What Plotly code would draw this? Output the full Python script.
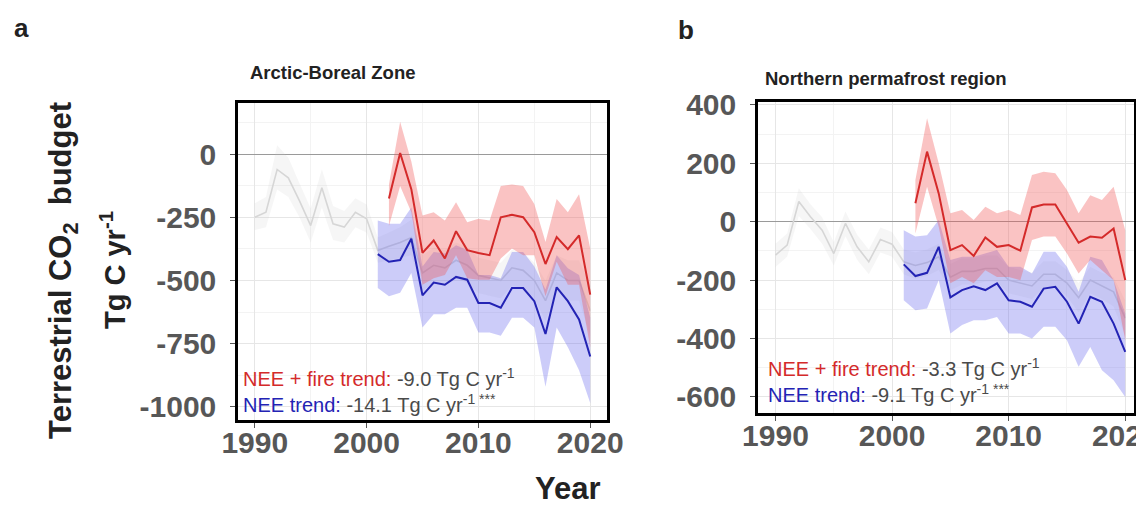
import plotly.graph_objects as go

W, H = 1136, 511

# ---------------- data ----------------
years_gray = [1990, 1991, 1992, 1993, 1994, 1995, 1996, 1997, 1998, 1999, 2000,
              2001, 2002, 2003, 2004, 2005, 2006, 2007, 2008, 2009, 2010,
              2011, 2012, 2013, 2014, 2015, 2016, 2017, 2018, 2019, 2020]
years_nee = [2001, 2002, 2003, 2004, 2005, 2006, 2007, 2008, 2009, 2010,
             2011, 2012, 2013, 2014, 2015, 2016, 2017, 2018, 2019, 2020]
years_fire = [2002, 2003, 2004, 2005, 2006, 2007, 2008, 2009, 2010,
              2011, 2012, 2013, 2014, 2015, 2016, 2017, 2018, 2019, 2020]

# Panel a: Arctic-Boreal Zone
a_gray = [-250, -230, -61, -94, -185, -283, -133, -276, -289, -230, -256,
          -381, -365, -350, -330, -470, -440, -450, -420, -440, -480,
          -490, -500, -450, -460, -500, -580, -470, -500, -500, -620]
a_gray_hi = [-195, -170, 35, -15, -115, -215, -60, -205, -225, -175, -200,
             -330, -310, -290, -260, -400, -370, -380, -350, -370, -410,
             -420, -430, -380, -390, -430, -500, -400, -420, -420, -520]
a_gray_lo = [-300, -290, -140, -170, -250, -350, -210, -340, -350, -290, -310,
             -430, -420, -410, -400, -540, -510, -520, -490, -510, -550,
             -560, -570, -520, -530, -570, -660, -540, -580, -580, -720]
a_fire = [-176, 4, -139, -391, -342, -413, -305, -380, -391, -400,
          -250, -240, -250, -309, -435, -328, -376, -322, -556]
a_fire_hi = [-120, 128, -29, -243, -230, -263, -191, -270, -256, -263,
             -126, -120, -126, -198, -348, -178, -230, -159, -374]
a_fire_lo = [-285, -126, -230, -517, -491, -478, -400, -491, -497, -497,
             -413, -374, -400, -400, -562, -426, -517, -517, -764]
a_nee = [-396, -426, -419, -335, -559, -508, -517, -486, -497, -589,
         -589, -608, -530, -530, -582, -712, -527, -582, -654, -801]
a_nee_hi = [-263, -276, -276, -211, -445, -387, -393, -361, -380, -478,
            -478, -491, -387, -387, -445, -536, -400, -452, -478, -647]
a_nee_lo = [-530, -562, -549, -470, -686, -634, -634, -608, -608, -706,
            -706, -719, -648, -648, -686, -920, -686, -764, -855, -985]

# Panel b: Northern permafrost region
b_gray = [-114, -80, 69, 17, -29, -109, -6, -86, -137, -61, -77,
          -137, -150, -140, -120, -190, -170, -170, -160, -160, -200,
          -210, -220, -180, -180, -210, -260, -200, -220, -240, -330]
b_gray_hi = [-75, -40, 115, 60, 15, -70, 35, -45, -95, -20, -35,
             -95, -105, -95, -75, -145, -125, -125, -115, -115, -155,
             -165, -175, -135, -135, -165, -210, -155, -175, -190, -270]
b_gray_lo = [-155, -120, 20, -25, -75, -150, -50, -130, -180, -105, -120,
             -180, -195, -185, -165, -235, -215, -215, -205, -205, -245,
             -255, -265, -225, -225, -255, -310, -245, -265, -290, -390]
b_fire = [63, 240, 97, -97, -80, -117, -54, -86, -80, -99,
          49, 59, 59, -6, -72, -51, -55, -23, -200]
b_fire_hi = [143, 354, 200, 29, 40, 6, 51, 29, 40, 23,
             160, 171, 166, 109, 29, 91, 74, 120, -29]
b_fire_lo = [-40, 120, -17, -211, -189, -211, -166, -189, -189, -200,
             -63, -51, -51, -109, -177, -131, -166, -200, -406]
b_nee = [-146, -186, -175, -86, -259, -234, -221, -234, -211, -269,
         -274, -291, -229, -223, -274, -349, -257, -274, -349, -446]
b_nee_hi = [-29, -51, -46, 6, -131, -120, -120, -109, -97, -154,
            -154, -177, -103, -103, -154, -240, -120, -131, -200, -314]
b_nee_lo = [-269, -303, -297, -200, -383, -354, -337, -337, -326, -383,
            -383, -400, -360, -360, -406, -497, -429, -509, -543, -600]

x_ticks = [1990, 2000, 2010, 2020]
a_yticks = [0, -250, -500, -750, -1000]
b_yticks = [400, 200, 0, -200, -400, -600]

a_title = "Arctic-Boreal Zone"
b_title = "Northern permafrost region"
a_fire_trend = "-9.0"
a_nee_trend = "-14.1"
b_fire_trend = "-3.3"
b_nee_trend = "-9.1"

# ---------------- styles ----------------
RED = "#d42a2a"
BLUE = "#2323b4"
RED_FILL = "rgba(242,90,90,0.36)"
BLUE_FILL = "rgba(95,95,235,0.32)"
GRAY_LINE = "#d6d6d6"
GRAY_FILL = "rgba(200,200,200,0.16)"
FONT = "Liberation Sans"
TICK_GRAY = "#575757"


def px(x):
    return x / W


def py(y):
    return 1 - y / H


fig = go.Figure()


def add_band(xs, lo, hi, fill, xa, ya):
    fig.add_trace(go.Scatter(x=xs, y=lo, mode="lines", line=dict(width=0),
                             hoverinfo="skip", showlegend=False, xaxis=xa, yaxis=ya))
    fig.add_trace(go.Scatter(x=xs, y=hi, mode="lines", line=dict(width=0),
                             fill="tonexty", fillcolor=fill,
                             hoverinfo="skip", showlegend=False, xaxis=xa, yaxis=ya))


def add_line(xs, ys, color, width, xa, ya):
    fig.add_trace(go.Scatter(x=xs, y=ys, mode="lines", line=dict(color=color, width=width),
                             showlegend=False, xaxis=xa, yaxis=ya))


for (xa, ya, g, ghi, glo, f, fhi, flo, n, nhi, nlo) in [
    ("x", "y", a_gray, a_gray_hi, a_gray_lo, a_fire, a_fire_hi, a_fire_lo, a_nee, a_nee_hi, a_nee_lo),
    ("x2", "y2", b_gray, b_gray_hi, b_gray_lo, b_fire, b_fire_hi, b_fire_lo, b_nee, b_nee_hi, b_nee_lo),
]:
    add_band(years_gray, glo, ghi, GRAY_FILL, xa, ya)
    add_line(years_gray, g, GRAY_LINE, 1.6, xa, ya)
    add_band(years_nee, nlo, nhi, BLUE_FILL, xa, ya)
    add_band(years_fire, flo, fhi, RED_FILL, xa, ya)
    add_line(years_nee, n, BLUE, 2, xa, ya)
    add_line(years_fire, f, RED, 2, xa, ya)

tickfont = dict(family=FONT, size=30, color=TICK_GRAY, weight="bold")
common_x = dict(tickmode="array", tickvals=x_ticks, ticktext=[str(v) for v in x_ticks],
                showline=True, linecolor="black", linewidth=2.5, mirror=True,
                ticks="outside", ticklen=5, tickcolor="#555", tickwidth=1,
                showgrid=True, gridcolor="#e6e6e6", gridwidth=1,
                minor=dict(showgrid=True, gridcolor="#f3f3f3", dtick=5, ticks=""),
                zeroline=False, tickfont=tickfont, automargin=False, ticklabelstandoff=-11,
                ticklabeloverflow="allow")
common_y = dict(tickmode="array",
                showline=True, linecolor="black", linewidth=2.5, mirror=True,
                ticks="outside", ticklen=5, tickcolor="#555", tickwidth=1,
                showgrid=True, gridcolor="#e6e6e6", gridwidth=1,
                zeroline=True, zerolinecolor="#9a9a9a", zerolinewidth=1.2,
                tickfont=tickfont, automargin=False, ticklabelstandoff=8,
                ticklabeloverflow="allow")

fig.update_layout(
    width=W, height=H,
    margin=dict(l=0, r=0, t=0, b=0),
    paper_bgcolor="white", plot_bgcolor="white",
    showlegend=False,
    xaxis=dict(domain=[px(238), px(607)], range=[1988.5, 2021.5], anchor="y", **common_x),
    yaxis=dict(domain=[py(420), py(103)], range=[-1052, 202], anchor="x",
               tickvals=a_yticks, ticktext=[str(v) for v in a_yticks],
               minor=dict(showgrid=True, gridcolor="#f3f3f3", dtick=125, ticks=""),
               **common_y),
    xaxis2=dict(domain=[px(758), px(1134)], range=[1988.5, 2020.75], anchor="y2", **common_x),
    yaxis2=dict(domain=[py(413), py(102)], range=[-655, 410], anchor="x2",
                tickvals=b_yticks, ticktext=[str(v) for v in b_yticks],
                minor=dict(showgrid=True, gridcolor="#f3f3f3", dtick=100, ticks=""),
                **common_y),
)

ann = []


def label(text, x, y, size, color="#222", bold=True, xanchor="center", yanchor="middle", angle=0):
    ann.append(dict(text=text, x=px(x), y=py(y), xref="paper", yref="paper",
                    showarrow=False, xanchor=xanchor, yanchor=yanchor, textangle=angle,
                    align="left",
                    font=dict(family=FONT, size=size, color=color,
                              weight="bold" if bold else "normal")))


label("a", 12, 28, 26, xanchor="left")
label("b", 676, 30, 26, xanchor="left")
label(a_title, 333, 72, 18.5)
label(b_title, 886, 78, 18.5)
label("Terrestrial CO<sub>2</sub>&nbsp;&nbsp;budget", 63, 271, 31, angle=-90)
label("Tg C yr<sup>-1</sup>", 113, 270, 29, angle=-90)
label("Year", 568, 488, 31)

TXT = "#4a4a4a"
for (x0, yc, ft, nt) in [(241, 390, a_fire_trend, a_nee_trend),
                         (766, 380, b_fire_trend, b_nee_trend)]:
    label(f"<span style='color:{RED}'>NEE + fire trend:</span> {ft} Tg C yr<sup>-1</sup><br>"
          f"<span style='color:{BLUE}'>NEE trend:</span> {nt} Tg C yr<sup>-1 ***</sup>",
          x0, yc, 20, color=TXT, bold=False, xanchor="left")

fig.update_layout(annotations=ann)
fig.write_html("out.html", config={"displayModeBar": False},
               post_script="document.body.style.margin='0';document.body.style.padding='0';")
